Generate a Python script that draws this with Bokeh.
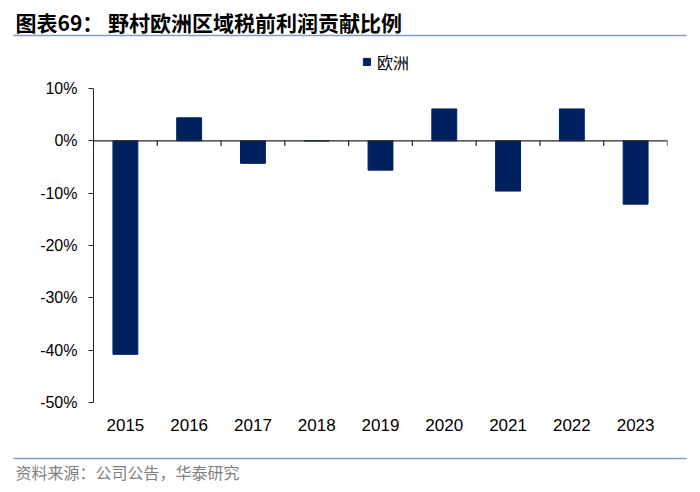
from bokeh.plotting import figure
from bokeh.layouts import column
from bokeh.models import (FactorRange, Range1d, Span, Label, Legend,
                          LegendItem, FixedTicker, PrintfTickFormatter, ColumnDataSource)
from bokeh.embed import file_html
from bokeh.resources import INLINE
import numpy as np

# ---- data ----
years = ["2015", "2016", "2017", "2018", "2019", "2020", "2021", "2022", "2023"]
europe_share = [-40.8, 4.4, -4.3, 0.0, -5.6, 6.1, -9.6, 6.1, -12.1]
y_ticks = [10, 0, -10, -20, -30, -40, -50]
series_name = "欧洲"
title_text = "图表69： 野村欧洲区域税前利润贡献比例"
source_text = "资料来源：公司公告，华泰研究"

# ---- layout constants (pixels) ----
W = 700
TOP_H, MAIN_H, BOT_H = 76, 370, 46
bar_color = "#002060"
rule_color = "#7f9ec7"
axis_color = "#262626"


def no_align(f):
    if "frame_align" in f.properties():
        f.frame_align = False
    return f


def blank_fig(h):
    f = figure(width=W, height=h, x_range=Range1d(0, W), y_range=Range1d(h, 0),
               output_backend="svg", toolbar_location=None,
               min_border=0, min_border_left=0, min_border_right=0,
               min_border_top=0, min_border_bottom=0)
    f.axis.visible = False
    f.grid.visible = False
    f.outline_line_color = None
    return no_align(f)


# ---- header: title, rule, legend ----
top = blank_fig(TOP_H)
top.add_layout(Label(x=15, y=21, text=title_text, text_font="Noto Sans CJK SC",
                     text_font_size="21px", text_font_style="bold",
                     text_color="black", text_baseline="middle", text_align="left"))
top.segment(x0=[13], y0=[35], x1=[686], y1=[35], line_color=rule_color, line_width=1.5)

# legend proxy renderer (one invisible NaN row, same style as the bars)
proxy_src = ColumnDataSource(data=dict(x=np.array([np.nan]), top=np.array([np.nan])))
proxy = top.vbar(x="x", top="top", width=1, source=proxy_src,
                 fill_color=bar_color, line_color=bar_color)
legend = Legend(items=[LegendItem(label=series_name, renderers=[proxy])],
                location=(362, 2.5), orientation="horizontal",
                glyph_width=9, glyph_height=9, label_standoff=6,
                padding=0, margin=0, spacing=0,
                border_line_color=None, background_fill_alpha=0,
                label_text_font="Noto Sans CJK SC", label_text_font_size="16px",
                label_text_color="black", label_height=16)
top.add_layout(legend, "center")

# ---- main chart ----
BL, BR = 93, W - 667
BT = 88 - TOP_H
BB = MAIN_H - (402 - TOP_H)
p = figure(width=W, height=MAIN_H,
           x_range=FactorRange(factors=years, range_padding=0),
           y_range=Range1d(-50, 10),
           output_backend="svg", toolbar_location=None,
           min_border_left=BL, min_border_right=BR,
           min_border_top=BT, min_border_bottom=BB)
no_align(p)
p.outline_line_color = None
p.xgrid.visible = False
p.ygrid.visible = False

src = ColumnDataSource(data=dict(year=years, share=europe_share))
bars = p.vbar(x="year", top="share", width=0.39, source=src,
              fill_color=bar_color, line_color=bar_color)

# zero line and category-boundary ticks
p.add_layout(Span(location=0, dimension="width", line_color=axis_color, line_width=1.2))
bounds = np.arange(len(years) + 1)
p.segment(x0=bounds, y0=np.zeros(len(bounds)), x1=bounds, y1=np.full(len(bounds), -1.0),
          line_color=axis_color, line_width=1.2)

yax = p.yaxis[0]
yax.ticker = FixedTicker(ticks=y_ticks)
yax.formatter = PrintfTickFormatter(format="%d%%")
yax.axis_line_color = axis_color
yax.major_tick_line_color = axis_color
yax.major_tick_out = 5
yax.major_tick_in = 0
yax.minor_tick_line_color = None
yax.major_label_standoff = 11
yax.major_label_text_font = "Liberation Sans"
yax.major_label_text_font_size = "16px"
yax.major_label_text_color = "black"

xax = p.xaxis[0]
xax.axis_line_color = None
xax.major_tick_line_color = None
xax.minor_tick_line_color = None
xax.major_tick_out = 0
xax.major_tick_in = 0
xax.major_label_standoff = 16
xax.major_label_text_font = "Liberation Sans"
xax.major_label_text_font_size = "17px"
xax.major_label_text_color = "black"

# ---- footer: rule and source ----
bot = blank_fig(BOT_H)
y0_bot = TOP_H + MAIN_H
bot.segment(x0=[13], y0=[458 - y0_bot], x1=[686], y1=[458 - y0_bot],
            line_color=rule_color, line_width=1.5)
bot.add_layout(Label(x=15, y=471.5 - y0_bot, text=source_text, text_font="Noto Sans CJK SC",
                     text_font_size="16px", text_color="#7f7f7f",
                     text_baseline="middle", text_align="left"))

layout = column(top, p, bot, spacing=0)
open("out.html", "w").write(file_html(layout, INLINE))
